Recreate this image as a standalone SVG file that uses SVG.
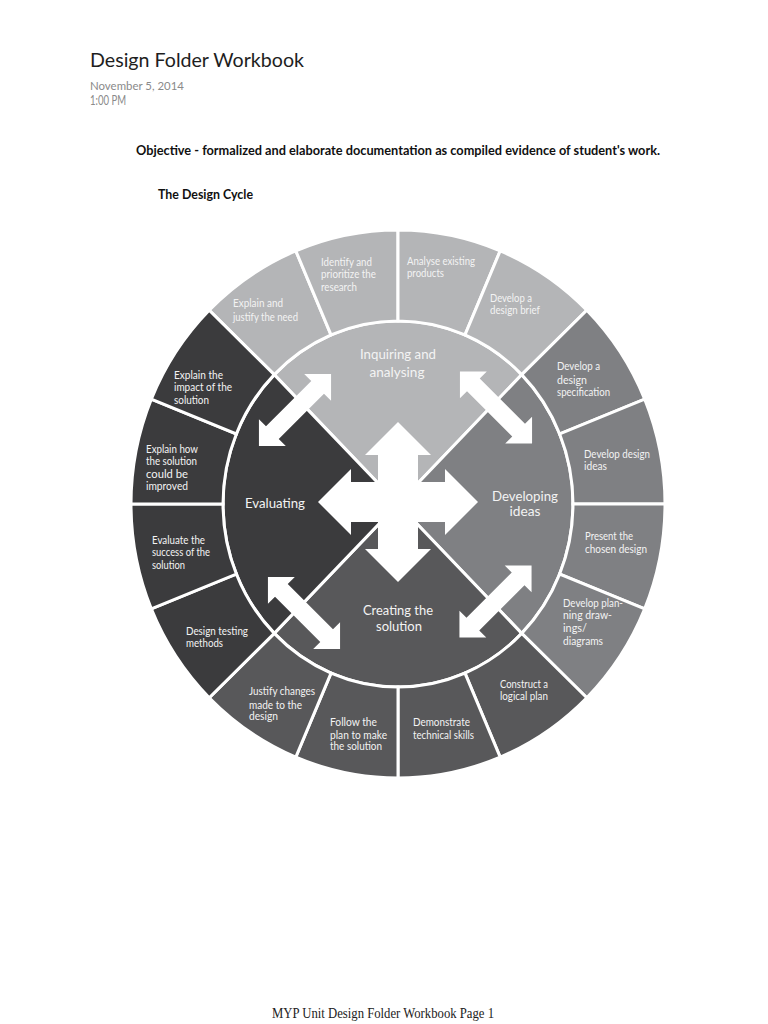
<svg xmlns="http://www.w3.org/2000/svg" xmlns:xlink="http://www.w3.org/1999/xlink" width="768" height="1024" viewBox="0 0 768 1024">
<style>
.inq{fill:#b4b5b7;stroke:#fff;stroke-width:3;stroke-linejoin:miter}
.dev{fill:#7f8083;stroke:#fff;stroke-width:3;stroke-linejoin:miter}
.cre{fill:#58585a;stroke:#fff;stroke-width:3;stroke-linejoin:miter}
.eva{fill:#3b3b3d;stroke:#fff;stroke-width:3;stroke-linejoin:miter}
.lbl{font-family:Lato,"Open Sans","DejaVu Sans",sans-serif;font-size:10.5px;fill:#f3f3f3}
.big{font-family:Lato,"Open Sans","DejaVu Sans",sans-serif;font-size:13.5px;fill:#f3f3f3;text-anchor:middle}
.hdr{font-family:Lato,"Liberation Sans",sans-serif}
.arw{fill:#ffffff}
</style>
<defs>
<polygon id="dbl" points="51,0 32,19 32,9 -32,9 -32,19 -51,0 -32,-19 -32,-9 32,-9 32,-19"/>
</defs>
<rect x="0" y="0" width="768" height="1024" fill="#ffffff"/>

<g id="header">
<text class="hdr" x="90" y="67" font-size="20" fill="#1e1e1e" textLength="214" lengthAdjust="spacingAndGlyphs">Design Folder Workbook</text>
<text class="hdr" x="90" y="90" font-size="12" fill="#8a8a8a" textLength="94" lengthAdjust="spacingAndGlyphs">November 5, 2014</text>
<text class="hdr" x="90" y="105" font-size="12.5" fill="#8a8a8a" textLength="36" lengthAdjust="spacingAndGlyphs">1:00 PM</text>
<text class="hdr" x="136" y="155" font-size="12.5" font-weight="bold" fill="#111" textLength="524" lengthAdjust="spacingAndGlyphs">Objective - formalized and elaborate documentation as compiled evidence of student's work.</text>
<text class="hdr" x="158" y="199" font-size="12.5" font-weight="bold" fill="#111" textLength="95" lengthAdjust="spacingAndGlyphs">The Design Cycle</text>
</g>

<!-- Inner quadrants -->
<g id="q-inquiring">
<path class="inq" d="M398 504 L274.26 374.60 A175 183 0 0 1 521.74 374.60 Z"/>
<text class="big" x="398" y="359" textLength="76" lengthAdjust="spacingAndGlyphs">Inquiring and</text>
<text class="big" x="397" y="377" textLength="55" lengthAdjust="spacingAndGlyphs">analysing</text>
</g>
<g id="q-developing">
<path class="dev" d="M398 504 L521.74 374.60 A175 183 0 0 1 521.74 633.40 Z"/>
<text class="big" x="525" y="501" textLength="66" lengthAdjust="spacingAndGlyphs">Developing</text>
<text class="big" x="525" y="516" textLength="31" lengthAdjust="spacingAndGlyphs">ideas</text>
</g>
<g id="q-creating">
<path class="cre" d="M398 504 L521.74 633.40 A175 183 0 0 1 274.26 633.40 Z"/>
<text class="big" x="398" y="615" textLength="70" lengthAdjust="spacingAndGlyphs">Creating the</text>
<text class="big" x="399" y="631" textLength="46" lengthAdjust="spacingAndGlyphs">solution</text>
</g>
<g id="q-evaluating">
<path class="eva" d="M398 504 L274.26 633.40 A175 183 0 0 1 274.26 374.60 Z"/>
<text class="big" x="275" y="508" textLength="60" lengthAdjust="spacingAndGlyphs">Evaluating</text>
</g>

<!-- Outer ring: Inquiring and analysing -->
<g id="s-justify-need">
<path class="inq" d="M209.20 310.25 A267 274 0 0 1 295.82 250.86 L331.03 334.93 A175 183 0 0 0 274.26 374.60 Z"/>
<text class="lbl" x="233" y="306.5" textLength="50" lengthAdjust="spacingAndGlyphs">Explain and</text>
<text class="lbl" x="233" y="320.5" textLength="65" lengthAdjust="spacingAndGlyphs">justify the need</text>
</g>
<g id="s-identify-research">
<path class="inq" d="M295.82 250.86 A267 274 0 0 1 398 230 L398 321 A175 183 0 0 0 331.03 334.93 Z"/>
<text class="lbl" x="321" y="265.5" textLength="51" lengthAdjust="spacingAndGlyphs">Identify and</text>
<text class="lbl" x="321" y="278" textLength="55" lengthAdjust="spacingAndGlyphs">prioritize the</text>
<text class="lbl" x="321" y="290.5" textLength="36" lengthAdjust="spacingAndGlyphs">research</text>
</g>
<g id="s-analyse-products">
<path class="inq" d="M398 230 A267 274 0 0 1 500.18 250.86 L464.97 334.93 A175 183 0 0 0 398 321 Z"/>
<text class="lbl" x="407" y="265" textLength="68" lengthAdjust="spacingAndGlyphs">Analyse existing</text>
<text class="lbl" x="407" y="276.5" textLength="37" lengthAdjust="spacingAndGlyphs">products</text>
</g>
<g id="s-design-brief">
<path class="inq" d="M500.18 250.86 A267 274 0 0 1 586.80 310.25 L521.74 374.60 A175 183 0 0 0 464.97 334.93 Z"/>
<text class="lbl" x="490" y="301.5" textLength="42" lengthAdjust="spacingAndGlyphs">Develop a</text>
<text class="lbl" x="490" y="313.5" textLength="50" lengthAdjust="spacingAndGlyphs">design brief</text>
</g>

<!-- Outer ring: Developing ideas -->
<g id="s-specification">
<path class="dev" d="M586.80 310.25 A267 274 0 0 1 644.68 399.14 L559.68 433.97 A175 183 0 0 0 521.74 374.60 Z"/>
<text class="lbl" x="557" y="370" textLength="43" lengthAdjust="spacingAndGlyphs">Develop a</text>
<text class="lbl" x="557" y="383.5" textLength="30" lengthAdjust="spacingAndGlyphs">design</text>
<text class="lbl" x="557" y="396" textLength="53" lengthAdjust="spacingAndGlyphs">specification</text>
</g>
<g id="s-design-ideas">
<path class="dev" d="M644.68 399.14 A267 274 0 0 1 665 504 L573 504 A175 183 0 0 0 559.68 433.97 Z"/>
<text class="lbl" x="584" y="457.5" textLength="66" lengthAdjust="spacingAndGlyphs">Develop design</text>
<text class="lbl" x="584" y="469.5" textLength="23" lengthAdjust="spacingAndGlyphs">ideas</text>
</g>
<g id="s-chosen-design">
<path class="dev" d="M665 504 A267 274 0 0 1 644.68 608.86 L559.68 574.03 A175 183 0 0 0 573 504 Z"/>
<text class="lbl" x="585" y="540" textLength="48" lengthAdjust="spacingAndGlyphs">Present the</text>
<text class="lbl" x="585" y="553" textLength="62" lengthAdjust="spacingAndGlyphs">chosen design</text>
</g>
<g id="s-planning-drawings">
<path class="dev" d="M644.68 608.86 A267 274 0 0 1 586.80 697.75 L521.74 633.40 A175 183 0 0 0 559.68 574.03 Z"/>
<text class="lbl" x="563" y="607" textLength="60" lengthAdjust="spacingAndGlyphs">Develop plan-</text>
<text class="lbl" x="563" y="619" textLength="49" lengthAdjust="spacingAndGlyphs">ning draw-</text>
<text class="lbl" x="563" y="632" textLength="24" lengthAdjust="spacingAndGlyphs">ings/</text>
<text class="lbl" x="563" y="644.5" textLength="40" lengthAdjust="spacingAndGlyphs">diagrams</text>
</g>

<!-- Outer ring: Creating the solution -->
<g id="s-logical-plan">
<path class="cre" d="M586.80 697.75 A267 274 0 0 1 500.18 757.14 L464.97 673.07 A175 183 0 0 0 521.74 633.40 Z"/>
<text class="lbl" x="500" y="687.5" textLength="48" lengthAdjust="spacingAndGlyphs">Construct a</text>
<text class="lbl" x="500" y="700" textLength="48" lengthAdjust="spacingAndGlyphs">logical plan</text>
</g>
<g id="s-technical-skills">
<path class="cre" d="M500.18 757.14 A267 274 0 0 1 398 778 L398 687 A175 183 0 0 0 464.97 673.07 Z"/>
<text class="lbl" x="413" y="726" textLength="57" lengthAdjust="spacingAndGlyphs">Demonstrate</text>
<text class="lbl" x="413" y="738.5" textLength="61" lengthAdjust="spacingAndGlyphs">technical skills</text>
</g>
<g id="s-follow-plan">
<path class="cre" d="M398 778 A267 274 0 0 1 295.82 757.14 L331.03 673.07 A175 183 0 0 0 398 687 Z"/>
<text class="lbl" x="330" y="726" textLength="47" lengthAdjust="spacingAndGlyphs">Follow the</text>
<text class="lbl" x="330" y="738.5" textLength="57" lengthAdjust="spacingAndGlyphs">plan to make</text>
<text class="lbl" x="330" y="750" textLength="52" lengthAdjust="spacingAndGlyphs">the solution</text>
</g>
<g id="s-justify-changes">
<path class="cre" d="M295.82 757.14 A267 274 0 0 1 209.20 697.75 L274.26 633.40 A175 183 0 0 0 331.03 673.07 Z"/>
<text class="lbl" x="249" y="695" textLength="66" lengthAdjust="spacingAndGlyphs">Justify changes</text>
<text class="lbl" x="249" y="708.5" textLength="53" lengthAdjust="spacingAndGlyphs">made to the</text>
<text class="lbl" x="249" y="720" textLength="29" lengthAdjust="spacingAndGlyphs">design</text>
</g>

<!-- Outer ring: Evaluating -->
<g id="s-testing-methods">
<path class="eva" d="M209.20 697.75 A267 274 0 0 1 151.32 608.86 L236.32 574.03 A175 183 0 0 0 274.26 633.40 Z"/>
<text class="lbl" x="186" y="635" textLength="62" lengthAdjust="spacingAndGlyphs">Design testing</text>
<text class="lbl" x="186" y="647" textLength="37" lengthAdjust="spacingAndGlyphs">methods</text>
</g>
<g id="s-evaluate-success">
<path class="eva" d="M151.32 608.86 A267 274 0 0 1 131 504 L223 504 A175 183 0 0 0 236.32 574.03 Z"/>
<text class="lbl" x="152" y="543.5" textLength="53" lengthAdjust="spacingAndGlyphs">Evaluate the</text>
<text class="lbl" x="152" y="556" textLength="58" lengthAdjust="spacingAndGlyphs">success of the</text>
<text class="lbl" x="152" y="568.5" textLength="33" lengthAdjust="spacingAndGlyphs">solution</text>
</g>
<g id="s-improved">
<path class="eva" d="M131 504 A267 274 0 0 1 151.32 399.14 L236.32 433.97 A175 183 0 0 0 223 504 Z"/>
<text class="lbl" x="146" y="452.5" textLength="52" lengthAdjust="spacingAndGlyphs">Explain how</text>
<text class="lbl" x="146" y="465" textLength="51" lengthAdjust="spacingAndGlyphs">the solution</text>
<text class="lbl" x="146" y="477.5" textLength="42" lengthAdjust="spacingAndGlyphs">could be</text>
<text class="lbl" x="146" y="490" textLength="42" lengthAdjust="spacingAndGlyphs">improved</text>
</g>
<g id="s-impact">
<path class="eva" d="M151.32 399.14 A267 274 0 0 1 209.20 310.25 L274.26 374.60 A175 183 0 0 0 236.32 433.97 Z"/>
<text class="lbl" x="174" y="378.5" textLength="49" lengthAdjust="spacingAndGlyphs">Explain the</text>
<text class="lbl" x="174" y="391" textLength="58" lengthAdjust="spacingAndGlyphs">impact of the</text>
<text class="lbl" x="174" y="403.5" textLength="35" lengthAdjust="spacingAndGlyphs">solution</text>
</g>

<g id="connectors">
<polygon class="arw" points="398,422 431,455 418,455 418,482 445,482 445,469 478,502 445,535 445,522 418,522 418,549 431,549 398,582 365,549 378,549 378,522 351,522 351,535 318,502 351,469 351,482 378,482 378,455 365,455"/>
<use class="arw" href="#dbl" xlink:href="#dbl" transform="translate(295 410) rotate(-45)"/>
<use class="arw" href="#dbl" xlink:href="#dbl" transform="translate(496 407.5) rotate(45)"/>
<use class="arw" href="#dbl" xlink:href="#dbl" transform="translate(304 613) rotate(45)"/>
<use class="arw" href="#dbl" xlink:href="#dbl" transform="translate(495.5 601.5) rotate(-45)"/>
</g>

<g id="footer">
<text x="272" y="1018" font-family="'Liberation Serif','Times New Roman',serif" font-size="14" fill="#222" textLength="222" lengthAdjust="spacingAndGlyphs">MYP Unit Design Folder Workbook Page 1</text>
</g>
</svg>
